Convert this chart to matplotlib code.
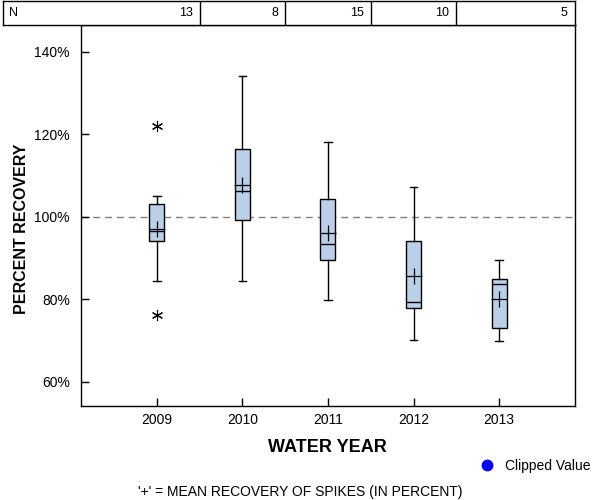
"""Spike recovery boxplots by water year, with an N-count strip on top."""

import matplotlib

matplotlib.use('Agg')
import matplotlib.pyplot as plt

plt.rcParams['font.family'] = ['Liberation Sans', 'DejaVu Sans']

# ----- data --------------------------------------------------------------
YEARS = [2009, 2010, 2011, 2012, 2013]
N_COUNTS = [13, 8, 15, 10, 5]
Q1 = [94.0, 99.3, 89.4, 77.8, 73.0]
MEDIAN = [96.6, 106.2, 93.3, 79.4, 83.6]
Q3 = [103.0, 116.5, 104.4, 94.0, 84.8]
WHISK_LO = [84.3, 84.3, 79.7, 70.2, 69.8]
WHISK_HI = [105.0, 134.1, 118.2, 107.1, 89.5]
MEAN = [97.1, 107.6, 96.1, 85.7, 80.1]
OUTLIERS = [[121.9, 76.05], [], [], [], []]
Y_TICKS = [60, 80, 100, 120, 140]
# -------------------------------------------------------------------------

BOX_COLOR = '#B9D0E8'
X_LO, X_HI = 2008.113, 2013.885
PX = 1 / 85.6          # one pixel in year units


def main():
    fig = plt.figure(figsize=(6, 5), dpi=100)
    ax = fig.add_axes([0.135, 0.188, 0.823, 0.762])
    tab = fig.add_axes([0.005, 0.950, 0.953, 0.048])

    stats = []
    for i, yr in enumerate(YEARS):
        stats.append(dict(label=str(yr), q1=Q1[i], med=MEDIAN[i], q3=Q3[i],
                          whislo=WHISK_LO[i], whishi=WHISK_HI[i],
                          mean=MEAN[i], fliers=OUTLIERS[i]))

    ax.axhline(100, color='#808080', lw=1, ls=(0, (5, 3.5)), zorder=0)
    ax.bxp(stats, positions=YEARS, widths=0.175, patch_artist=True,
           showmeans=True, showfliers=True,
           boxprops=dict(facecolor=BOX_COLOR, edgecolor='black', lw=1),
           medianprops=dict(color='black', lw=1),
           whiskerprops=dict(color='black', lw=1),
           capprops=dict(color='black', lw=1),
           capwidths=0.085,
           meanprops=dict(marker='+', markersize=11, markeredgecolor='black',
                          markeredgewidth=0.9),
           flierprops=dict(marker=(6, 2, 0), markersize=8,
                           markeredgecolor='black', markeredgewidth=0.8))

    ax.set_xlim(X_LO, X_HI)
    ax.set_ylim(54.1, 146.5)
    ax.set_xticks(YEARS)
    ax.set_xticklabels([str(y) for y in YEARS])
    ax.set_yticks(Y_TICKS)
    ax.set_yticklabels([f'{v}%' for v in Y_TICKS])
    ax.tick_params(direction='in', length=6, width=1, labelsize=10, pad=8)
    ax.tick_params(axis='x', pad=5)
    for sp in ax.spines.values():
        sp.set_linewidth(1)
    ax.set_xlabel('WATER YEAR', fontsize=13, fontweight='bold', labelpad=9)
    ax.set_ylabel('PERCENT RECOVERY', fontsize=11.5, fontweight='bold')
    ax.yaxis.set_label_coords(-0.105, 0.465)

    # N strip: one cell per year, counts right-aligned in each cell
    tab.set_xlim(X_LO - 78 * PX, X_HI)
    tab.set_ylim(0, 1)
    tab.set_xticks([])
    tab.set_yticks([])
    for sp in tab.spines.values():
        sp.set_linewidth(1)
    for yr in YEARS[:-1]:
        tab.axvline(yr + 0.5, color='black', lw=1)
    tab.text(X_LO - 72 * PX, 0.5, 'N', va='center', ha='left', fontsize=9)
    cell_right = [yr + 0.5 for yr in YEARS[:-1]] + [X_HI]
    for right, n in zip(cell_right, N_COUNTS):
        tab.text(right - 7 * PX, 0.5, str(n), va='center', ha='right',
                 fontsize=9)

    ax.plot([0.812], [0.071], 'o', ms=7.5, color='blue',
            transform=fig.transFigure, clip_on=False)
    fig.text(0.841, 0.068, 'Clipped Value', fontsize=10, va='center')
    fig.text(0.5, 0.016, "'+' = MEAN RECOVERY OF SPIKES (IN PERCENT)",
             fontsize=10, ha='center', va='center')

    fig.savefig('out.png', dpi=100)
    plt.close(fig)


if __name__ == '__main__':
    main()
